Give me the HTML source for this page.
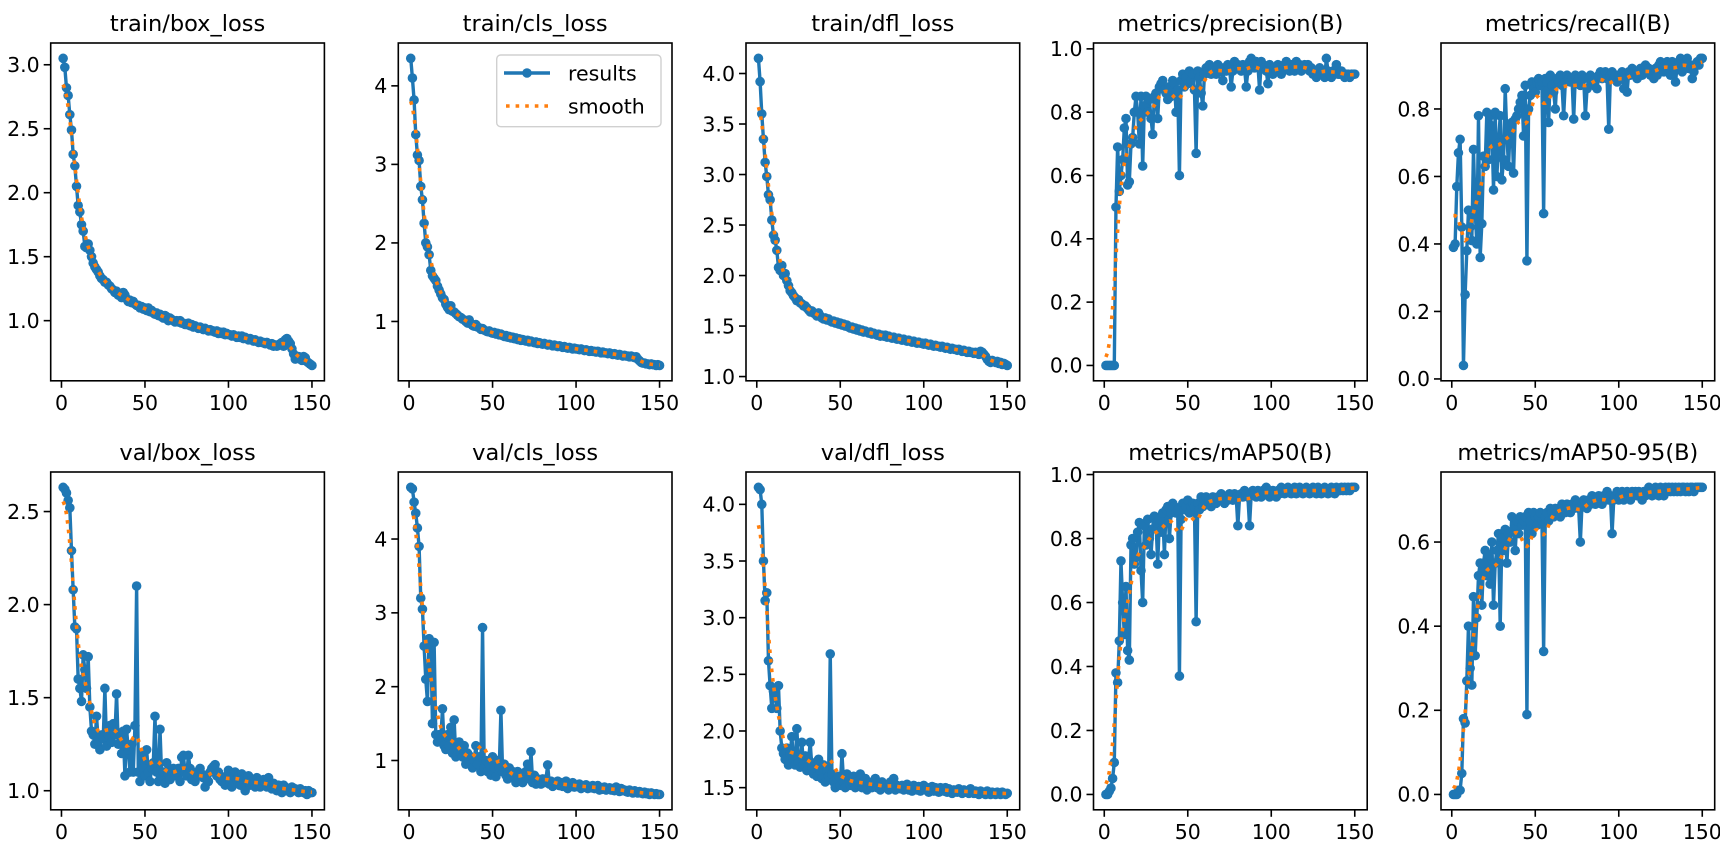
<!DOCTYPE html>
<html><head><meta charset="utf-8"><title>Training results</title>
<style>
html,body{margin:0;padding:0;background:#fff;}
svg{display:block;font-family:"DejaVu Sans","Liberation Sans",sans-serif;}
</style></head>
<body>
<svg id="fig" width="1720" height="854" viewBox="0 0 1720 854" xmlns="http://www.w3.org/2000/svg"></svg>
<script>
const titles = ["train/box_loss","train/cls_loss","train/dfl_loss","metrics/precision(B)","metrics/recall(B)","val/box_loss","val/cls_loss","val/dfl_loss","metrics/mAP50(B)","metrics/mAP50-95(B)"];
const ticks = [[1.0,1.5,2.0,2.5,3.0],[1,2,3,4],[1.0,1.5,2.0,2.5,3.0,3.5,4.0],[0,0.2,0.4,0.6,0.8,1.0],[0,0.2,0.4,0.6,0.8],[1.0,1.5,2.0,2.5],[1,2,3,4],[1.5,2.0,2.5,3.0,3.5,4.0],[0,0.2,0.4,0.6,0.8,1.0],[0,0.2,0.4,0.6]];
const tickDecimals = [1,0,1,1,1,1,0,1,1,1];
const xTicks = [0,50,100,150];
const trainBox = [3.05,2.98,2.82,2.76,2.61,2.49,2.30,2.21,2.05,1.90,1.85,1.75,1.70,1.58,1.57,1.60,1.55,1.50,1.45,1.42,1.40,1.38,1.35,1.33,1.32,1.30,1.30,1.28,1.27,1.25,1.24,1.22,1.23,1.20,1.20,1.18,1.22,1.20,1.17,1.15,1.16,1.14,1.15,1.13,1.12,1.12,1.10,1.11,1.09,1.10,1.08,1.10,1.07,1.08,1.06,1.05,1.06,1.04,1.05,1.03,1.02,1.04,1.03,1.00,1.02,1.01,1.00,0.99,1.00,0.99,1.00,0.98,0.98,0.97,0.97,0.98,0.96,0.97,0.95,0.96,0.95,0.94,0.95,0.94,0.93,0.94,0.93,0.92,0.93,0.92,0.92,0.91,0.92,0.90,0.91,0.90,0.91,0.89,0.90,0.89,0.89,0.88,0.89,0.88,0.87,0.88,0.87,0.88,0.86,0.87,0.86,0.85,0.86,0.85,0.84,0.85,0.84,0.83,0.84,0.83,0.83,0.82,0.83,0.82,0.81,0.82,0.80,0.81,0.80,0.81,0.82,0.83,0.80,0.85,0.86,0.84,0.82,0.78,0.74,0.70,0.71,0.72,0.70,0.69,0.72,0.71,0.68,0.67,0.66,0.65];
const trainCls = [4.35,4.10,3.82,3.38,3.12,3.05,2.72,2.55,2.25,2.00,1.95,1.85,1.65,1.58,1.55,1.52,1.45,1.40,1.35,1.30,1.28,1.22,1.18,1.15,1.20,1.13,1.12,1.10,1.08,1.06,1.05,1.03,1.02,1.00,0.98,1.02,0.97,0.95,0.94,0.96,0.93,0.92,0.90,0.91,0.89,0.88,0.87,0.88,0.86,0.85,0.86,0.84,0.85,0.83,0.84,0.82,0.81,0.82,0.80,0.81,0.79,0.80,0.78,0.79,0.77,0.78,0.76,0.77,0.76,0.75,0.76,0.74,0.75,0.74,0.73,0.74,0.72,0.73,0.72,0.71,0.72,0.71,0.70,0.71,0.70,0.69,0.70,0.69,0.68,0.69,0.68,0.67,0.68,0.67,0.66,0.67,0.66,0.65,0.66,0.65,0.65,0.64,0.65,0.64,0.63,0.64,0.63,0.62,0.63,0.62,0.62,0.61,0.62,0.61,0.60,0.61,0.60,0.60,0.59,0.60,0.59,0.58,0.59,0.58,0.57,0.58,0.57,0.56,0.57,0.56,0.56,0.55,0.56,0.55,0.54,0.55,0.52,0.50,0.48,0.47,0.47,0.46,0.46,0.45,0.46,0.45,0.45,0.44,0.45,0.44];
const trainDfl = [4.15,3.92,3.60,3.35,3.12,2.98,2.80,2.75,2.55,2.40,2.35,2.25,2.08,2.05,2.10,2.00,2.02,1.95,1.90,1.85,1.83,1.80,1.78,1.75,1.76,1.73,1.72,1.70,1.70,1.68,1.66,1.64,1.65,1.63,1.62,1.60,1.63,1.60,1.58,1.57,1.58,1.56,1.57,1.55,1.54,1.55,1.53,1.54,1.52,1.53,1.51,1.52,1.50,1.51,1.49,1.48,1.49,1.47,1.48,1.46,1.47,1.45,1.46,1.44,1.45,1.44,1.43,1.44,1.42,1.43,1.42,1.41,1.42,1.40,1.41,1.40,1.41,1.39,1.40,1.39,1.38,1.39,1.38,1.37,1.38,1.37,1.36,1.37,1.36,1.35,1.36,1.35,1.34,1.35,1.34,1.33,1.34,1.33,1.33,1.32,1.33,1.32,1.31,1.32,1.31,1.30,1.31,1.30,1.30,1.29,1.30,1.29,1.28,1.29,1.28,1.27,1.28,1.27,1.27,1.26,1.27,1.26,1.25,1.26,1.25,1.24,1.25,1.24,1.24,1.23,1.24,1.23,1.22,1.25,1.24,1.22,1.20,1.17,1.15,1.14,1.16,1.15,1.14,1.15,1.13,1.14,1.12,1.13,1.12,1.11];
const precision = [0,0,0,0,0,0,0.50,0.69,0.55,0.60,0.65,0.75,0.78,0.57,0.58,0.70,0.72,0.80,0.85,0.80,0.70,0.85,0.63,0.82,0.85,0.80,0.84,0.78,0.73,0.85,0.86,0.78,0.88,0.89,0.90,0.87,0.86,0.84,0.88,0.85,0.90,0.89,0.80,0.87,0.60,0.90,0.92,0.88,0.91,0.89,0.93,0.90,0.92,0.87,0.67,0.93,0.91,0.86,0.82,0.92,0.94,0.93,0.95,0.92,0.94,0.93,0.92,0.95,0.93,0.94,0.90,0.94,0.93,0.95,0.94,0.88,0.93,0.96,0.94,0.95,0.94,0.93,0.95,0.94,0.88,0.93,0.96,0.97,0.95,0.94,0.96,0.95,0.87,0.96,0.95,0.94,0.93,0.89,0.95,0.94,0.92,0.94,0.93,0.95,0.94,0.92,0.93,0.95,0.96,0.94,0.93,0.95,0.94,0.93,0.96,0.94,0.95,0.93,0.94,0.95,0.94,0.95,0.93,0.94,0.92,0.93,0.91,0.92,0.94,0.92,0.93,0.91,0.97,0.93,0.92,0.91,0.93,0.92,0.95,0.92,0.92,0.93,0.92,0.91,0.92,0.92,0.91,0.92,0.92,0.92];
const recall = [0.39,0.40,0.57,0.67,0.71,0.45,0.04,0.25,0.38,0.50,0.45,0.41,0.68,0.50,0.40,0.78,0.36,0.46,0.66,0.63,0.79,0.65,0.78,0.75,0.56,0.79,0.60,0.70,0.78,0.59,0.65,0.86,0.72,0.63,0.75,0.76,0.61,0.77,0.78,0.80,0.82,0.84,0.72,0.87,0.35,0.80,0.84,0.88,0.86,0.85,0.88,0.89,0.87,0.88,0.49,0.89,0.88,0.76,0.90,0.87,0.85,0.80,0.89,0.88,0.90,0.87,0.78,0.88,0.90,0.89,0.88,0.89,0.77,0.90,0.88,0.89,0.87,0.90,0.89,0.78,0.86,0.89,0.90,0.88,0.87,0.89,0.86,0.90,0.91,0.89,0.90,0.91,0.89,0.74,0.90,0.91,0.89,0.90,0.88,0.90,0.89,0.91,0.86,0.90,0.85,0.91,0.90,0.92,0.91,0.90,0.89,0.91,0.92,0.90,0.91,0.93,0.91,0.92,0.90,0.91,0.89,0.92,0.90,0.93,0.94,0.92,0.91,0.93,0.94,0.93,0.90,0.94,0.92,0.88,0.93,0.94,0.95,0.91,0.93,0.94,0.95,0.92,0.93,0.89,0.91,0.93,0.94,0.93,0.95,0.95];
const valBox = [2.63,2.62,2.60,2.56,2.52,2.29,2.08,1.88,1.87,1.60,1.55,1.48,1.73,1.65,1.55,1.72,1.45,1.32,1.30,1.25,1.40,1.27,1.22,1.30,1.28,1.55,1.24,1.30,1.35,1.26,1.36,1.30,1.52,1.25,1.30,1.20,1.32,1.08,1.33,1.22,1.10,1.25,1.10,1.35,2.10,1.10,1.05,1.20,1.12,1.08,1.22,1.10,1.05,1.12,1.15,1.40,1.10,1.05,1.33,1.08,1.10,1.04,1.15,1.09,1.06,1.10,1.12,1.08,1.10,1.12,1.05,1.18,1.19,1.10,1.08,1.19,1.12,1.06,1.07,1.05,1.10,1.08,1.12,1.09,1.07,1.02,1.08,1.05,1.10,1.12,1.13,1.14,1.08,1.10,1.06,1.05,1.07,1.03,1.08,1.11,1.05,1.02,1.08,1.10,1.06,1.08,1.03,1.09,1.06,1.00,1.05,1.08,1.03,1.06,1.04,1.02,1.07,1.05,1.02,1.03,1.06,1.04,1.02,1.07,1.03,1.01,1.04,1.02,1.00,1.03,1.01,0.99,1.03,1.02,1.00,1.01,0.99,1.02,1.00,1.01,1.00,0.99,1.01,1.00,0.99,1.00,0.98,1.00,0.99,0.99];
const valCls = [4.70,4.68,4.50,4.35,4.15,3.90,3.20,3.05,2.55,2.10,1.80,2.65,2.60,1.50,2.60,1.35,1.25,1.35,1.30,1.70,1.20,1.15,1.35,1.20,1.45,1.10,1.55,1.05,1.15,1.25,1.10,1.05,1.20,0.95,1.10,1.00,1.05,0.90,1.00,1.20,0.95,1.05,0.85,2.80,0.90,1.00,0.85,0.95,0.80,1.05,0.90,0.78,1.00,0.90,1.68,0.85,0.95,0.80,0.75,0.90,0.80,0.85,0.78,0.70,0.85,0.75,0.82,0.70,0.78,0.85,0.95,0.75,1.12,0.70,0.80,0.68,0.75,0.72,0.68,0.75,0.70,0.75,0.94,0.68,0.72,0.65,0.70,0.68,0.72,0.66,0.70,0.65,0.68,0.72,0.62,0.68,0.66,0.70,0.64,0.66,0.65,0.68,0.62,0.66,0.64,0.67,0.62,0.65,0.63,0.66,0.62,0.64,0.66,0.60,0.63,0.61,0.64,0.60,0.62,0.63,0.60,0.62,0.59,0.64,0.60,0.58,0.62,0.59,0.60,0.58,0.57,0.60,0.58,0.56,0.59,0.57,0.56,0.58,0.56,0.55,0.57,0.55,0.56,0.54,0.56,0.55,0.54,0.55,0.54,0.54];
const valDfl = [4.15,4.13,4.00,3.50,3.15,3.22,2.62,2.40,2.20,2.35,2.30,2.20,2.40,2.00,1.85,1.80,1.75,1.85,1.70,1.80,1.95,1.75,1.70,2.02,1.72,1.68,1.90,1.70,1.78,1.65,1.75,1.90,1.68,1.62,1.72,1.60,1.75,1.65,1.58,1.70,1.55,1.65,1.60,2.68,1.62,1.55,1.50,1.58,1.60,1.52,1.80,1.55,1.50,1.62,1.58,1.52,1.55,1.60,1.50,1.55,1.52,1.62,1.50,1.55,1.58,1.48,1.55,1.52,1.50,1.55,1.58,1.50,1.52,1.48,1.55,1.50,1.52,1.50,1.48,1.55,1.50,1.58,1.48,1.52,1.50,1.49,1.52,1.48,1.50,1.53,1.48,1.50,1.47,1.52,1.50,1.48,1.51,1.47,1.50,1.52,1.48,1.50,1.46,1.49,1.51,1.47,1.50,1.48,1.46,1.50,1.48,1.47,1.50,1.46,1.49,1.47,1.45,1.48,1.47,1.46,1.49,1.47,1.45,1.48,1.46,1.47,1.45,1.49,1.46,1.45,1.47,1.46,1.44,1.47,1.45,1.46,1.44,1.47,1.45,1.44,1.46,1.45,1.44,1.46,1.45,1.44,1.46,1.45,1.44,1.45];
const map50 = [0,0,0.01,0.02,0.05,0.10,0.38,0.35,0.48,0.73,0.60,0.50,0.65,0.45,0.42,0.78,0.80,0.72,0.74,0.82,0.85,0.70,0.60,0.84,0.78,0.86,0.80,0.75,0.83,0.87,0.85,0.72,0.86,0.82,0.88,0.75,0.89,0.90,0.80,0.88,0.91,0.90,0.88,0.89,0.37,0.86,0.91,0.89,0.90,0.92,0.88,0.90,0.91,0.90,0.54,0.91,0.89,0.93,0.90,0.92,0.93,0.91,0.92,0.90,0.93,0.92,0.91,0.93,0.92,0.94,0.93,0.91,0.93,0.92,0.94,0.93,0.92,0.94,0.93,0.84,0.93,0.94,0.93,0.95,0.94,0.93,0.84,0.94,0.95,0.94,0.93,0.95,0.94,0.93,0.95,0.94,0.96,0.95,0.93,0.94,0.95,0.94,0.93,0.95,0.94,0.96,0.95,0.94,0.95,0.96,0.95,0.94,0.95,0.96,0.94,0.95,0.96,0.95,0.94,0.95,0.96,0.95,0.94,0.95,0.96,0.95,0.94,0.96,0.95,0.94,0.95,0.96,0.95,0.94,0.95,0.96,0.95,0.94,0.96,0.95,0.95,0.96,0.95,0.96,0.95,0.96,0.95,0.96,0.96,0.96];
const map5095 = [0,0,0,0.01,0.01,0.05,0.18,0.17,0.27,0.40,0.30,0.26,0.47,0.33,0.42,0.52,0.55,0.45,0.55,0.58,0.52,0.57,0.50,0.60,0.45,0.55,0.58,0.62,0.40,0.61,0.58,0.63,0.55,0.62,0.60,0.66,0.63,0.58,0.65,0.62,0.66,0.64,0.65,0.66,0.19,0.67,0.65,0.62,0.67,0.66,0.64,0.66,0.67,0.65,0.34,0.66,0.67,0.65,0.68,0.67,0.66,0.68,0.67,0.68,0.66,0.69,0.68,0.67,0.69,0.68,0.67,0.69,0.68,0.70,0.69,0.68,0.60,0.69,0.70,0.69,0.68,0.70,0.69,0.71,0.70,0.69,0.70,0.71,0.70,0.69,0.71,0.70,0.72,0.70,0.71,0.62,0.70,0.71,0.72,0.70,0.71,0.72,0.70,0.71,0.72,0.71,0.70,0.72,0.71,0.72,0.71,0.72,0.71,0.70,0.72,0.71,0.72,0.73,0.72,0.71,0.72,0.73,0.72,0.71,0.73,0.72,0.71,0.73,0.72,0.73,0.72,0.73,0.72,0.73,0.72,0.73,0.72,0.73,0.73,0.72,0.73,0.72,0.73,0.73,0.72,0.73,0.73,0.73,0.73,0.73];
const seriesList = [trainBox,trainCls,trainDfl,precision,recall,valBox,valCls,valDfl,map50,map5095];

const NS = "http://www.w3.org/2000/svg";
const svg = document.getElementById("fig");
const colLeft = [50.7,398.3,746,1093.5,1441];
const rowTop = [43,472];
const AW = 273.7, AH = 337.8;
const BLUE = "#1f77b4", ORANGE = "#ff7f0e";
const FS = 20.5;

function mk(tag, attrs, parent){
  const e = document.createElementNS(NS, tag);
  for (const k in attrs) e.setAttribute(k, attrs[k]);
  (parent||svg).appendChild(e);
  return e;
}
function gaussSmooth(y, sigma){
  const r = Math.round(4*sigma), w = [];
  let s = 0;
  for (let i=-r;i<=r;i++){ const v = Math.exp(-i*i/(2*sigma*sigma)); w.push(v); s += v; }
  const n = y.length, out = [];
  function idx(j){ while (j<0 || j>=n){ if (j<0) j = -j-1; if (j>=n) j = 2*n-j-1; } return j; }
  for (let i=0;i<n;i++){ let a=0; for (let k=-r;k<=r;k++) a += w[k+r]*y[idx(i+k)]; out.push(a/s); }
  return out;
}
function slug(t){ return t.toLowerCase().replace(/[^a-z0-9]+/g,"-").replace(/^-|-$/g,""); }

seriesList.forEach((ys, p) => {
  const L = colLeft[p%5], T = rowTop[Math.floor(p/5)];
  const nm = slug(titles[p]);
  const g = mk("g", {});
  
  
  const xs = ys.map((_, i) => i+1);
  const sm = gaussSmooth(ys, 3);
  const all = ys.concat(sm);
  let lo = Math.min(...all), hi = Math.max(...all);
  const m = (hi-lo)*0.05; lo -= m; hi += m;
  const x0 = 1 - 149*0.05, x1 = 150 + 149*0.05;
  const X = v => L + (v - x0)/(x1 - x0)*AW;
  const Y = v => T + AH - (v - lo)/(hi - lo)*AH;
  const clipId = "clip" + p;
  const cp = mk("clipPath", {id: clipId}, g);
  mk("rect", {x:L, y:T, width:AW, height:AH}, cp);
  const plot = mk("g", {"clip-path":"url(#"+clipId+")"}, g);
  const pts = xs.map((x,i)=>X(x).toFixed(2)+","+Y(ys[i]).toFixed(2)).join(" ");
  const line = mk("polyline", {points:pts, fill:"none", stroke:BLUE, "stroke-width":3.4, "stroke-linejoin":"round"}, plot);
  
  
  xs.forEach((x,i)=>{
    const c = mk("circle", {cx:X(x).toFixed(2), cy:Y(ys[i]).toFixed(2), r:4.8, fill:BLUE}, plot);
    
    
  });
  const spts = xs.map((x,i)=>X(x).toFixed(2)+","+Y(sm[i]).toFixed(2)).join(" ");
  const sl = mk("polyline", {points:spts, fill:"none", stroke:ORANGE, "stroke-width":3.6, "stroke-dasharray":"3.6 6"}, plot);
  
  
  const fr = mk("rect", {x:L, y:T, width:AW, height:AH, fill:"none", stroke:"#000", "stroke-width":1.6}, g);
  
  
  xTicks.forEach(t=>{
    const x = X(t);
    mk("line", {x1:x, y1:T+AH, x2:x, y2:T+AH+7, stroke:"#000", "stroke-width":1.6}, g);
    const tx = mk("text", {x:x, y:T+AH+29, "font-size":FS, "text-anchor":"middle", fill:"#000"}, g);
    tx.textContent = String(t);
    
    
  });
  ticks[p].forEach(t=>{
    const y = Y(t);
    if (y < T-1 || y > T+AH+1) return;
    mk("line", {x1:L-7, y1:y, x2:L, y2:y, stroke:"#000", "stroke-width":1.6}, g);
    const ty = mk("text", {x:L-11, y:y+7.3, "font-size":FS, "text-anchor":"end", fill:"#000"}, g);
    ty.textContent = t.toFixed(tickDecimals[p]);
    
    
  });
  const tt = mk("text", {x:L+AW/2, y:T-12, "font-size":22.5, "text-anchor":"middle", fill:"#000"}, g);
  tt.textContent = titles[p];
  
  
});

const lg = mk("g", {});


mk("rect", {x:496.7, y:55, width:164.3, height:71.7, rx:4, fill:"#fff", "fill-opacity":0.8, stroke:"#d0d0d0", "stroke-width":1.4}, lg);
mk("line", {x1:504, y1:73, x2:550, y2:73, stroke:BLUE, "stroke-width":3.4}, lg);
mk("circle", {cx:527, cy:73, r:4.8, fill:BLUE}, lg);
const t1 = mk("text", {x:568, y:80.5, "font-size":FS, fill:"#000"}, lg);
t1.textContent = "results";


mk("line", {x1:506, y1:106, x2:552, y2:106, stroke:ORANGE, "stroke-width":3.6, "stroke-dasharray":"3.6 6"}, lg);
const t2 = mk("text", {x:568, y:113.5, "font-size":FS, fill:"#000"}, lg);
t2.textContent = "smooth";


</script>
</body></html>
